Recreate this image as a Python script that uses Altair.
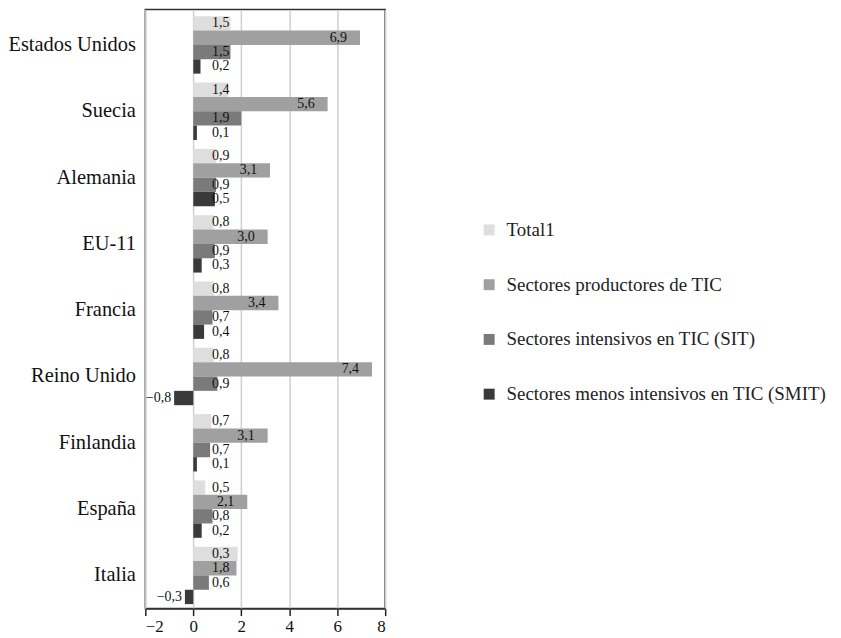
import altair as alt
import pandas as pd

countries = ["Estados Unidos", "Suecia", "Alemania", "EU-11", "Francia",
             "Reino Unido", "Finlandia", "España", "Italia"]
series = ["Total1", "Sectores productores de TIC",
          "Sectores intensivos en TIC (SIT)",
          "Sectores menos intensivos en TIC (SMIT)"]
colors = ["#dedede", "#a0a0a0", "#7a7a7a", "#3a3a3a"]

# bar lengths as drawn in the picture
total = [1.55, 1.45, 0.95, 0.85, 0.85, 0.85, 0.75, 0.5, 1.85]
producer = [6.95, 5.6, 3.2, 3.1, 3.55, 7.45, 3.1, 2.25, 1.8]
sit = [1.55, 2.0, 0.95, 0.9, 0.8, 1.0, 0.7, 0.8, 0.65]
smit = [0.3, 0.15, 0.9, 0.35, 0.45, -0.8, 0.15, 0.35, -0.35]

# printed value labels
total_lbl = ["1,5", "1,4", "0,9", "0,8", "0,8", "0,8", "0,7", "0,5", "0,3"]
producer_lbl = ["6,9", "5,6", "3,1", "3,0", "3,4", "7,4", "3,1", "2,1", "1,8"]
sit_lbl = ["1,5", "1,9", "0,9", "0,9", "0,7", "0,9", "0,7", "0,8", "0,6"]
smit_lbl = ["0,2", "0,1", "0,5", "0,3", "0,4", "−0,8", "0,1", "0,2", "−0,3"]

x_ticks = [-2, 0, 2, 4, 6, 8]

vals = [total, producer, sit, smit]
lbls = [total_lbl, producer_lbl, sit_lbl, smit_lbl]
rows = []
for i, c in enumerate(countries):
    for j, s in enumerate(series):
        rows.append({"country": c, "series": s, "value": vals[j][i], "label": lbls[j][i]})
df = pd.DataFrame(rows)

FONT = "Liberation Serif"

y_enc = alt.Y("country:N", sort=countries,
              scale=alt.Scale(paddingInner=0.135, paddingOuter=0.085, align=0.6),
              axis=alt.Axis(title=None, ticks=False, domain=False, labelFontSize=20.5,
                            labelFont=FONT, labelColor="#111", labelPadding=10))
yoff = alt.YOffset("series:N", sort=series,
                   scale=alt.Scale(paddingInner=0, paddingOuter=0))
x_scale = alt.Scale(domain=[-2, 8], nice=False, zero=False)
x_axis = alt.Axis(values=x_ticks, title=None, grid=True, gridColor="#cfcfcf",
                  gridWidth=1.5, tickColor="#222", tickSize=7, tickWidth=1.5,
                  domainColor="#333", domainWidth=1.5, labelFontSize=17,
                  labelFont=FONT, labelColor="#111", labelPadding=3)

base = alt.Chart(df)

bars = base.mark_bar().encode(
    x=alt.X("value:Q", scale=x_scale, axis=x_axis),
    x2=alt.datum(0),
    y=y_enc,
    yOffset=yoff,
    color=alt.Color("series:N", sort=series,
                    scale=alt.Scale(domain=series, range=colors),
                    legend=alt.Legend(title=None, orient="none", legendX=336, legendY=212,
                                      symbolType="square", symbolSize=121,
                                      symbolStrokeWidth=0, labelFontSize=19,
                                      labelFont=FONT, labelColor="#222", labelLimit=0,
                                      rowPadding=35, labelOffset=8)),
)

pos_text = base.transform_filter("datum.value >= 0").transform_calculate(
    lx="max(datum.value, 2.05)"
).mark_text(align="right", baseline="middle", dx=-13, fontSize=14, font=FONT,
            color="#111").encode(
    x=alt.X("lx:Q", scale=x_scale, axis=x_axis),
    y=y_enc, yOffset=yoff, text="label:N")

neg_text = base.transform_filter("datum.value < 0").mark_text(
    align="right", baseline="middle", dx=-3, fontSize=14, font=FONT, color="#111"
).encode(
    x=alt.X("value:Q", scale=x_scale, axis=x_axis),
    y=y_enc, yOffset=yoff, text="label:N")

chart = alt.layer(bars, pos_text, neg_text).properties(
    width=241, height=602,
    autosize=alt.AutoSizeParams(type="none"),
    padding={"left": 138, "top": 0, "right": 450, "bottom": 28},
).configure_view(stroke="#333", strokeWidth=1.5)

chart.save("out.html", embed_options={"renderer": "svg", "actions": False})
